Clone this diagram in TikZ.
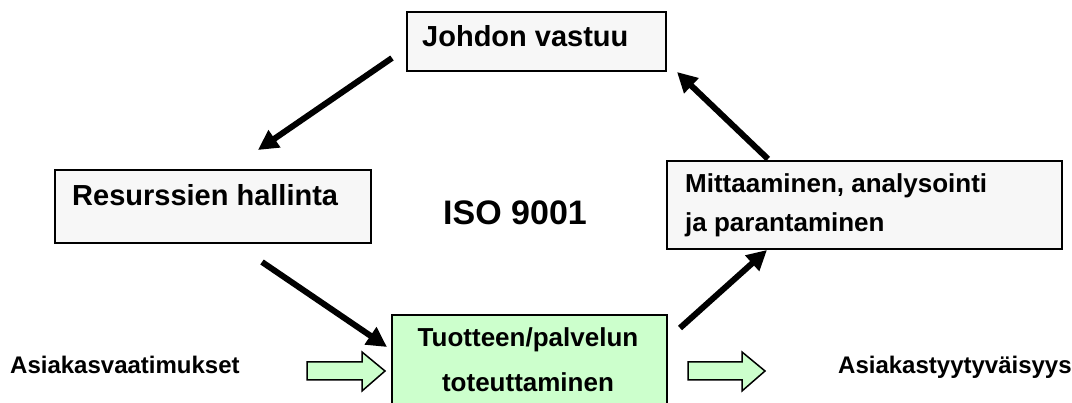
\documentclass[tikz,border=0pt]{standalone}
\usepackage{fontspec}
\setmainfont{Liberation Sans}
\usetikzlibrary{arrows.meta}
\definecolor{boxgray}{HTML}{F7F7F7}
\definecolor{boxgreen}{HTML}{CCFFCC}
\tikzset{
  box/.style={draw=black, line width=2pt, fill=boxgray},
  greenbox/.style={draw=black, line width=2pt, fill=boxgreen},
  lbl/.style={inner sep=0pt, anchor=base west, font=\bfseries},
  flow/.style={line width=6pt, -{Triangle[length=20pt,width=20pt]}},
  blockarrow/.style={draw=black, line width=1.5pt, fill=boxgreen, line join=miter}
}
\begin{document}
\begin{tikzpicture}[x=1pt,y=-1pt]
\useasboundingbox (0,0) rectangle (1072,403);
% boxes
\node[box, minimum width=259pt, minimum height=59pt, inner sep=0pt] (johdon) at (536.5,41.5) {};
\node[box, minimum width=316pt, minimum height=73pt, inner sep=0pt] (resurssit) at (213,206.5) {};
\node[box, minimum width=395pt, minimum height=88pt, inner sep=0pt] (mittaus) at (864.5,205) {};
\node[greenbox, minimum width=275pt, minimum height=100pt, inner sep=0pt] (toteutus) at (529.5,365) {};
% texts
\node[lbl, font=\bfseries\fontsize{29}{34}\selectfont] (tjohdon) at (422,47) {Johdon vastuu};
\node[lbl, font=\bfseries\fontsize{29}{34}\selectfont] (tres) at (72,206) {Resurssien hallinta};
\node[lbl, font=\bfseries\fontsize{26}{30}\selectfont] (tmit1) at (685,193) {Mittaaminen, analysointi};
\node[lbl, font=\bfseries\fontsize{26}{30}\selectfont] (tmit2) at (685,232) {ja parantaminen};
\node[inner sep=0pt, anchor=base, font=\bfseries\fontsize{26}{30}\selectfont] (ttot1) at (528,347) {Tuotteen/palvelun};
\node[inner sep=0pt, anchor=base, font=\bfseries\fontsize{26}{30}\selectfont] (ttot2) at (528,392) {toteuttaminen};
\node[lbl, font=\bfseries\fontsize{34}{40}\selectfont] (iso) at (443,225) {ISO 9001};
\node[lbl, font=\bfseries\fontsize{24}{28}\selectfont] (vaat) at (10,374) {Asiakasvaatimukset};
\node[lbl, font=\bfseries\fontsize{24}{28}\selectfont] (tyyt) at (838,374) {Asiakastyytyväisyys};
% connector end points
\coordinate (a1s) at (392,58);
\coordinate (a1e) at (258,150);
\coordinate (a2s) at (262,262);
\coordinate (a2e) at (387,347);
\coordinate (a3s) at (680,328);
\coordinate (a3e) at (767,250);
\coordinate (a4s) at (768,159);
\coordinate (a4e) at (677,72);
\draw[flow] (a1s) -- (a1e);
\draw[flow] (a2s) -- (a2e);
\draw[flow] (a3s) -- (a3e);
\draw[flow] (a4s) -- (a4e);
% block arrows
\draw[blockarrow] (307,362) -- (362,362) -- (362,352) -- (385,371) -- (362,391) -- (362,380) -- (307,380) -- cycle;
\draw[blockarrow] (688,362) -- (742,362) -- (742,352) -- (765,371) -- (742,391) -- (742,380) -- (688,380) -- cycle;
\end{tikzpicture}
\end{document}
